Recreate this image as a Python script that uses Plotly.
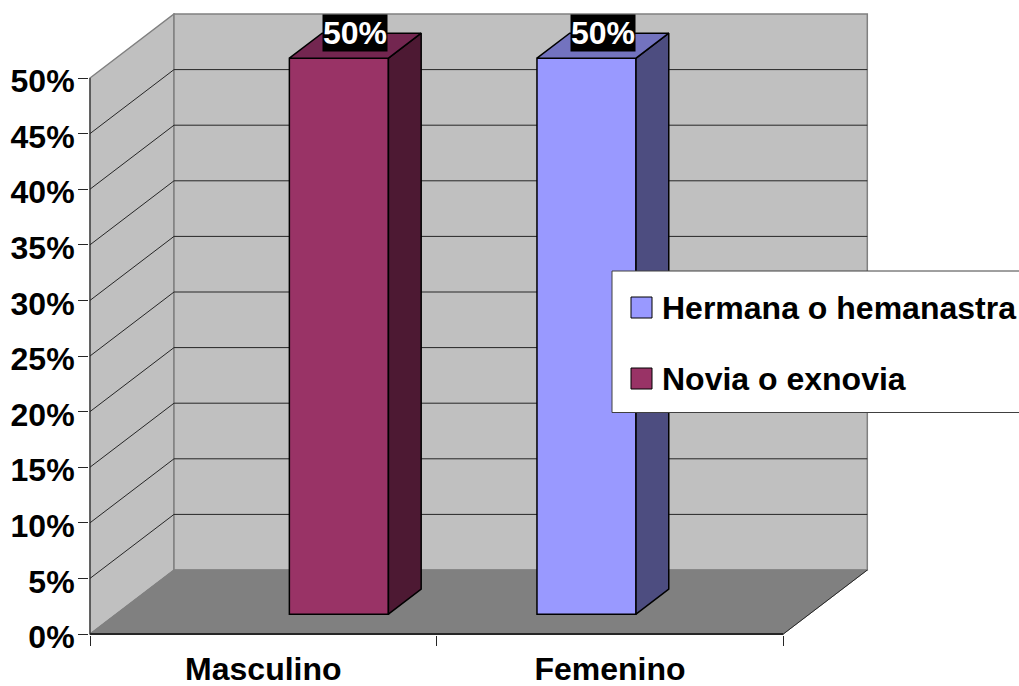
import plotly.graph_objects as go

categories = ["Masculino", "Femenino"]
hermana = [None, 0.5]
novia = [0.5, None]
y_ticks = [0, .05, .10, .15, .20, .25, .30, .35, .40, .45, .50]
y_labels = ["0%", "5%", "10%", "15%", "20%", "25%", "30%", "35%", "40%", "45%", "50%"]
legend_names = ["Hermana o hemanastra", "Novia o exnovia"]

W, H = 1019, 686
FONT = "Liberation Sans, Arial, sans-serif"
ML, MR, MT, MB = 89, 150, 13, 51
PX_X = 346.65      # pixels per category
PX_Y = 1112.0      # pixels per unit of value
DX, DY = 84 / PX_X, 64 / PX_Y   # depth of the chart box
Z0, Z1 = 0.31, 0.70             # bars occupy this depth band
GRID = "#262626"
WALL = "#C0C0C0"
FLOOR = "#808080"
EDGE = "#808080"

xc = [0.5, 1.5]
n = len(xc)


def path(points):
    return "M " + " L ".join(f"{a},{b}" for a, b in points) + " Z"


def line(points):
    return "M " + " L ".join(f"{a},{b}" for a, b in points)


ymax = y_ticks[-1]
shapes = [
    dict(type="path", layer="below", xref="x", yref="y", fillcolor=WALL,
         line=dict(color=EDGE, width=1.5),
         path=path([(0, 0), (0, ymax), (DX, ymax + DY), (DX, DY)])),
    dict(type="path", layer="below", xref="x", yref="y", fillcolor=WALL,
         line=dict(color=EDGE, width=1.5),
         path=path([(DX, DY), (DX, ymax + DY), (n + DX, ymax + DY), (n + DX, DY)])),
]
for v in y_ticks[1:-1]:
    shapes.append(dict(type="path", layer="below", xref="x", yref="y",
                       line=dict(color=GRID, width=1),
                       path=line([(0, v), (DX, v + DY), (n + DX, v + DY)])))
shapes += [
    dict(type="path", layer="below", xref="x", yref="y", fillcolor=FLOOR,
         line=dict(color=FLOOR, width=1),
         path=path([(0, 0), (n, 0), (n + DX, DY), (DX, DY)])),
    dict(type="path", layer="below", xref="x", yref="y",
         line=dict(color=GRID, width=1), path=line([(n, 0), (n + DX, DY)])),
    dict(type="path", layer="below", xref="x", yref="y",
         line=dict(color=GRID, width=2), path=line([(0, 0), (n, 0)])),
    dict(type="path", layer="below", xref="x", yref="y",
         line=dict(color=GRID, width=1), path=line([(0, 0), (0, ymax)])),
]

fig = go.Figure()
series = [
    (legend_names[0], hermana, "#9999FF", "#7373BF", "#4D4D80"),
    (legend_names[1], novia, "#993366", "#732650", "#4D1933"),
]
shift = Z0 * DX
base = Z0 * DY
depth_x = (Z1 - Z0) * DX
depth_y = (Z1 - Z0) * DY
bar_w = 2 / 7

annotations = []
for si, (name, vals, col, top, side) in enumerate(series):
    fig.add_trace(go.Bar(x=[c + shift for c in xc], y=vals, base=base, name=name,
                         marker=dict(color=col, line=dict(color="black", width=1.5)),
                         showlegend=False))
    for c, v in zip(xc, vals):
        if v is None:
            continue
        left = c + shift + (si - 1) * bar_w
        right = left + bar_w
        ytop = base + v
        fig.add_trace(go.Scatter(
            x=[right, right + depth_x, right + depth_x, right, right],
            y=[base, base + depth_y, ytop + depth_y, ytop, base],
            mode="lines", fill="toself", fillcolor=side,
            line=dict(color="black", width=1.5), showlegend=False, hoverinfo="skip"))
        fig.add_trace(go.Scatter(
            x=[left, left + depth_x, right + depth_x, right, left],
            y=[ytop, ytop + depth_y, ytop + depth_y, ytop, ytop],
            mode="lines", fill="toself", fillcolor=top,
            line=dict(color="black", width=1.5), showlegend=False, hoverinfo="skip"))
        annotations.append(dict(
            x=(left + right) / 2 + depth_x / 2, y=ytop + depth_y, xref="x", yref="y",
            text=y_labels[y_ticks.index(v)], showarrow=False, bgcolor="black", borderpad=0,
            font=dict(family=FONT, size=32, color="white")))


def px(x):
    return (x - ML) / (W - ML - MR)


def py(y):
    return 1 - (y - MT) / (H - MT - MB)


# legend box
shapes.append(dict(type="rect", layer="above", xref="paper", yref="paper",
                   x0=px(612), x1=px(1022), y0=py(271), y1=py(412.5),
                   fillcolor="white", line=dict(color="#404040", width=1)))
for name, col, ym in [(legend_names[0], "#9999FF", 307.5), (legend_names[1], "#993366", 378.5)]:
    shapes.append(dict(type="rect", layer="above", xref="paper", yref="paper",
                       x0=px(631), x1=px(652), y0=py(ym - 10.5), y1=py(ym + 10.5),
                       fillcolor=col, line=dict(color="black", width=1)))
    annotations.append(dict(x=px(661), y=py(ym), xref="paper", yref="paper",
                            xanchor="left", yanchor="middle", text=name, showarrow=False,
                            font=dict(family=FONT, size=32, color="black"), borderpad=0))

fig.update_layout(
    width=W, height=H, margin=dict(l=ML, r=MR, t=MT, b=MB, pad=0, autoexpand=False),
    paper_bgcolor="white", plot_bgcolor="rgba(0,0,0,0)",
    barmode="group", bargap=3 / 7, bargroupgap=0,
    showlegend=False, shapes=shapes, annotations=annotations,
    font=dict(family=FONT, size=32, color="black"),
    xaxis=dict(range=[-1 / PX_X, (W - MR - 90) / PX_X], tickmode="array",
               tickvals=xc, ticktext=[f"<b>{c}</b>" for c in categories], ticks="",
               showgrid=False, zeroline=False, showline=False, automargin=False,
               tickangle=0, ticklabelstandoff=12,
               minor=dict(tickmode="array", tickvals=[0, 1, 2], ticks="outside",
                          ticklen=10, tickcolor=GRID, tickwidth=1, showgrid=False)),
    yaxis=dict(range=[-1 / PX_Y, (634 - MT) / PX_Y], tickmode="array",
               tickvals=y_ticks, ticktext=[f"<b>{t}</b>" for t in y_labels],
               ticks="outside", ticklen=10, tickcolor=GRID, tickwidth=1, automargin=False,
               ticklabelstandoff=-3, ticklabelshift=3,
               showgrid=False, zeroline=False, showline=False),
)
fig.update_annotations(font_family=FONT)
for a in fig.layout.annotations:
    a.text = f"<b>{a.text}</b>"

fig.write_html("out.html", config={"displayModeBar": False},
               post_script="document.body.style.margin='0';document.documentElement.style.overflow='hidden';")
